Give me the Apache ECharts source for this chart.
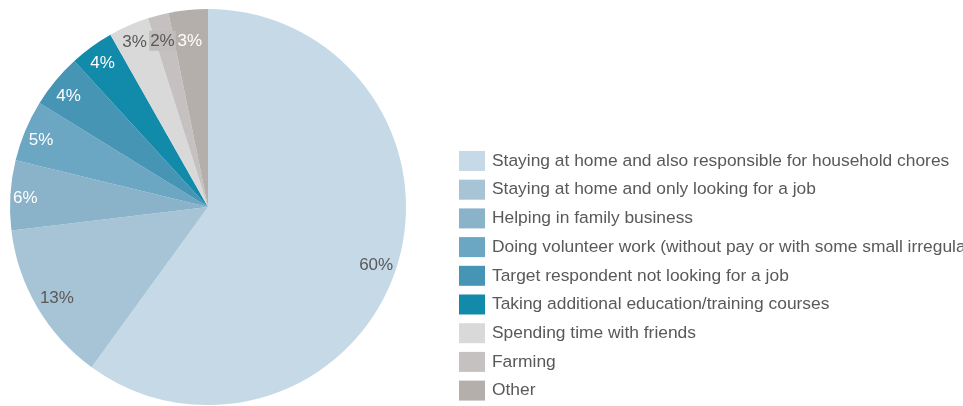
<!DOCTYPE html>
<html><head><meta charset="utf-8">
<script src="https://cdn.jsdelivr.net/npm/echarts@6/dist/echarts.min.js"></script>
<style>html,body{margin:0;padding:0;background:#fff}#c{width:963px;height:406px}</style>
</head><body><div id="c"></div>
<script>
const categories = [
  "Staying at home and also responsible for household chores",
  "Staying at home and only looking for a job",
  "Helping in family business",
  "Doing volunteer work (without pay or with some small irregular payment)",
  "Target respondent not looking for a job",
  "Taking additional education/training courses",
  "Spending time with friends",
  "Farming",
  "Other"
];
const values = [60.0, 13.1, 5.7, 5.0, 4.4, 3.6, 3.3, 1.7, 3.2];
const colors = ["#C5D9E6","#A6C4D6","#8AB3C9","#6BA6C2","#4795B4","#128AAA","#D9D9D9","#C5C1C0","#B5AFAC"];
const labelColors = ["#595959","#595959","#fff","#fff","#fff","#fff","#595959","#595959","#fff"];
const labelOffsets = [[-4,2],[5,0],[-2,2],[0,3],[0,5],[1,3],[-1,1],[0,9],[0,14]];

const data = categories.map((n,i)=>({name:n,value:values[i],itemStyle:{color:colors[i]}}));
const labelData = categories.map((n,i)=>{
  const o = {name:n,value:values[i],itemStyle:{color:'rgba(0,0,0,0)'},label:{color:labelColors[i],offset:labelOffsets[i]}};
  if(i===7){ o.label.backgroundColor = '#C2BEBD'; o.label.padding=[2,1,1,1]; }
  return o;
});

const chart = echarts.init(document.getElementById('c'), null, {renderer:'canvas'});
chart.setOption({
  animation:false,
  legend:{
    orient:'vertical', left:459, top:151, padding:0,
    itemWidth:26, itemHeight:20, itemGap:8.7,
    icon:'rect',
    selectedMode:false,
    data:categories,
    textStyle:{fontFamily:'Liberation Sans, Arial, sans-serif',fontSize:17.4,color:'#595959',padding:[0,0,0,2]}
  },
  series:[
    {
      type:'pie', center:[208,207], radius:[0,198], startAngle:90, clockwise:true,
      label:{show:false}, labelLine:{show:false}, silent:true,
      data:data
    },
    {
      type:'pie', center:[208,207], radius:[158,198], startAngle:90, clockwise:true,
      silent:true, percentPrecision:0,
      label:{show:true, position:'inside', formatter:'{d}%', fontFamily:'Liberation Sans, Arial, sans-serif', fontSize:17},
      labelLine:{show:false},
      data:labelData
    }
  ]
});
</script></body></html>
